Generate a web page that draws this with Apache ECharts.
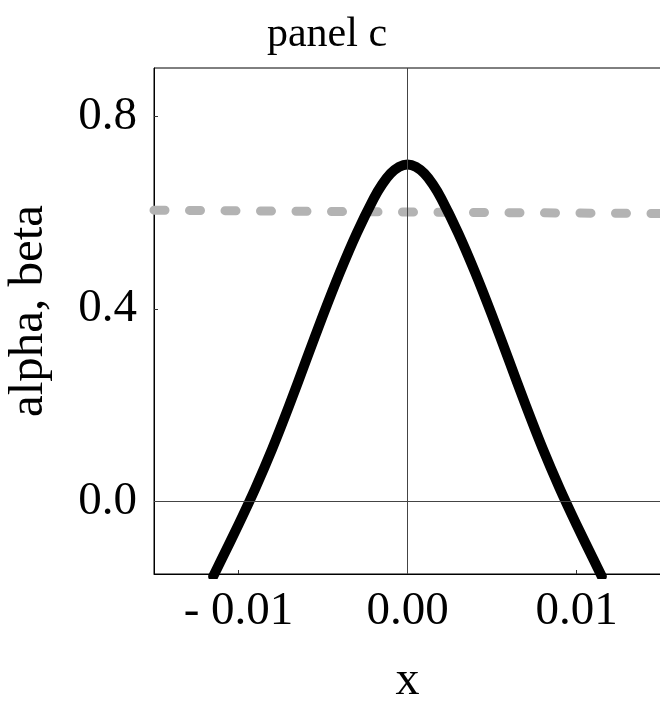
<!DOCTYPE html>
<html>
<head>
<meta charset="utf-8">
<script src="https://cdn.jsdelivr.net/npm/echarts@6/dist/echarts.min.js"></script>
<style>
  html, body { margin: 0; padding: 0; background: #ffffff; }
  #chart { width: 660px; height: 703px; }
</style>
</head>
<body>
<div id="chart"></div>
<script>
// Data
var curveX = [-0.0115, -0.011, -0.010, -0.009, -0.008, -0.007, -0.006, -0.005, -0.004, -0.003, -0.002, -0.0015, -0.001, -0.0005, 0,
              0.0005, 0.001, 0.0015, 0.002, 0.003, 0.004, 0.005, 0.006, 0.007, 0.008, 0.009, 0.010, 0.011, 0.0115];
var curveY = [-0.155, -0.1195, -0.0475, 0.028, 0.110, 0.1995, 0.2935, 0.387, 0.476, 0.5575, 0.629, 0.6585, 0.681, 0.695, 0.700,
              0.695, 0.681, 0.6585, 0.629, 0.5575, 0.476, 0.387, 0.2935, 0.1995, 0.110, 0.028, -0.0475, -0.1195, -0.155];
var dashX = [-0.015, 0, 0.015];
var dashY = [0.605, 0.601, 0.598];
var xTicks = [-0.01, 0, 0.01];
var yTicks = [0, 0.4, 0.8];
var titleText = 'panel c';
var xName = 'x';
var yName = 'alpha, beta';

function zip(a, b) { return a.map(function (v, i) { return [v, b[i]]; }); }

var FONT = 'Liberation Serif';
var chart = echarts.init(document.getElementById('chart'), null, { renderer: 'canvas' });
chart.setOption({
  backgroundColor: '#ffffff',
  animation: false,
  title: {
    text: titleText,
    left: 322,
    top: 9,
    textAlign: 'center',
    textStyle: { fontFamily: FONT, fontSize: 42, fontWeight: 'normal', color: '#000' }
  },
  grid: {
    left: 154, top: 68, right: -1, bottom: 129,
    outerBoundsMode: 'none',
    containLabel: false,
    show: true, borderColor: '#000', borderWidth: 1, backgroundColor: 'transparent'
  },
  xAxis: {
    type: 'value',
    min: -0.015, max: 0.015,
    name: xName,
    nameLocation: 'middle',
    nameGap: 83,
    nameTextStyle: { fontFamily: FONT, fontSize: 48, color: '#000' },
    axisLine: { show: true, onZero: false, lineStyle: { color: '#000', width: 1 } },
    axisTick: { show: true, inside: true, length: 4, customValues: xTicks, lineStyle: { color: '#333' } },
    axisLabel: {
      customValues: xTicks,
      margin: 14,
      fontFamily: FONT, fontSize: 47, color: '#000',
      formatter: function (v) { return v < 0 ? '- ' + Math.abs(v).toFixed(2) : v.toFixed(2); }
    },
    splitLine: { show: false }
  },
  yAxis: {
    type: 'value',
    min: -0.15, max: 0.9,
    name: yName,
    nameLocation: 'middle',
    nameGap: 100,
    nameRotate: 90,
    nameTextStyle: { fontFamily: FONT, fontSize: 49, color: '#000', padding: [0, 0, 0, 20] },
    axisLine: { show: true, onZero: false, lineStyle: { color: '#000', width: 1 } },
    axisTick: { show: true, inside: true, length: 4, customValues: yTicks, lineStyle: { color: '#333' } },
    axisLabel: {
      customValues: yTicks,
      margin: 17,
      fontFamily: FONT, fontSize: 47, color: '#000',
      formatter: function (v) { return v.toFixed(1); }
    },
    splitLine: { show: false }
  },
  series: [
    {
      type: 'line',
      data: zip(dashX, dashY),
      showSymbol: false,
      clip: true,
      z: 2,
      lineStyle: { color: '#b3b3b3', width: 9, type: [11, 24.5], cap: 'round' },
      markLine: {
        silent: true,
        symbol: ['none', 'none'],
        label: { show: false },
        lineStyle: { color: '#444', width: 1, type: 'solid' },
        data: [{ xAxis: 0 }, { yAxis: 0 }]
      }
    },
    {
      type: 'line',
      data: zip(curveX, curveY),
      showSymbol: false,
      smooth: 0.3,
      clip: true,
      z: 3,
      lineStyle: { color: '#000', width: 10, cap: 'round', join: 'round' }
    }
  ]
});
</script>
</body>
</html>
